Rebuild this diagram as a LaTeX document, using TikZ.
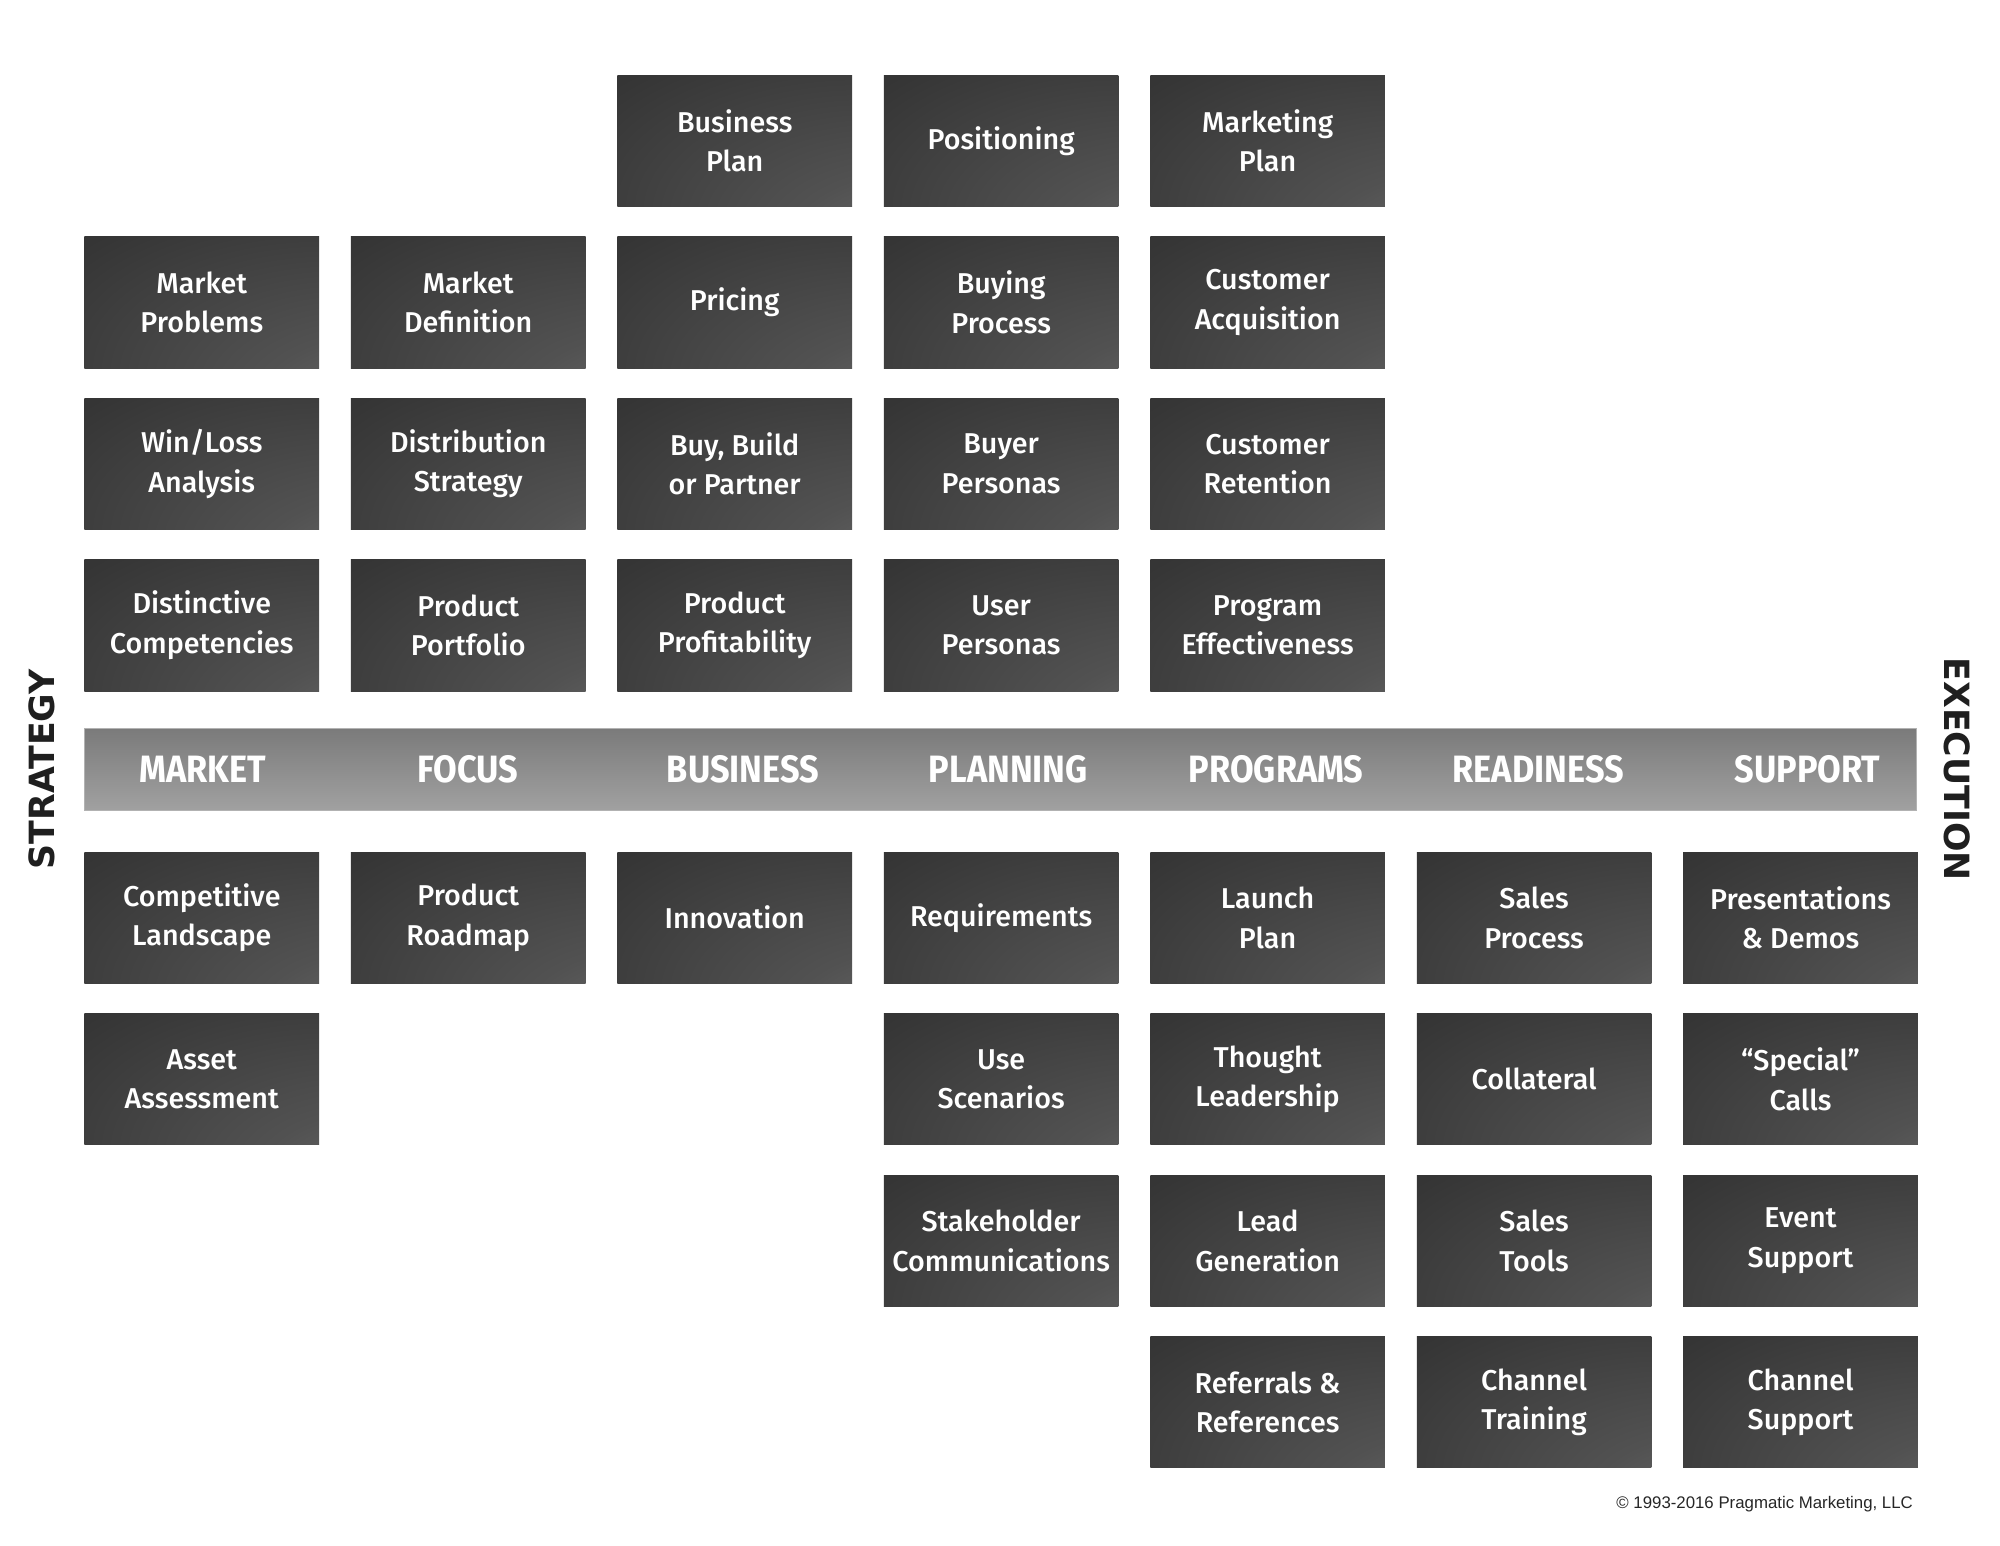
\documentclass[tikz,border=0pt]{standalone}
\usepackage{fontspec}
\setmainfont{Fira Sans}[UprightFont=* Medium, BoldFont=* Bold]
\newfontfamily\bandfont{Fira Sans}[FakeStretch=0.9]
\newfontfamily\sidefont{DejaVu Sans}
\newfontfamily\notefont{Liberation Sans}
\usetikzlibrary{positioning}

% dunkle Kachel, heller zur rechten unteren Ecke
\pgfdeclareradialshading{tileshade}{\pgfpoint{50bp}{-50bp}}{color(0bp)=(black!54); color(25bp)=(black!68); color(60bp)=(black!79); color(100bp)=(black!84)}

\tikzset{
  tile/.style={shade, shading=tileshade, minimum width=3.68cm, minimum height=2.06cm,
    inner sep=0pt, text=white, align=center, font=\fontsize{12.8pt}{17.6pt}\selectfont},
  band/.style={top color=black!52, bottom color=black!37, draw=black!30, line width=0.4pt,
    minimum width=28.74cm, minimum height=1.28cm, inner sep=0pt},
  bandlabel/.style={text=white, font=\bandfont\fontsize{17pt}{19pt}\selectfont\bfseries},
  sidelabel/.style={text=black!88, font=\sidefont\fontsize{15.5pt}{18pt}\selectfont\bfseries}
}

\begin{document}
\begin{tikzpicture}[x=0.02cm, y=-0.02cm]
            \useasboundingbox (0,0) rectangle (1568,1211.3);

            % Kacheln oberhalb des Bandes (Spalte/Zeile/Text)
            \foreach \c/\r/\t in {2/0/{Business\\Plan}, 3/0/Positioning, 4/0/{Marketing\\Plan},
                0/1/{Market\\Problems}, 1/1/{Market\\Definition}, 2/1/Pricing, 3/1/{Buying\\Process}, 4/1/{Customer\\Acquisition},
                0/2/{Win/Loss\\Analysis}, 1/2/{Distribution\\Strategy}, 2/2/{Buy, Build\\or Partner}, 3/2/{Buyer\\Personas}, 4/2/{Customer\\Retention},
                0/3/{Distinctive\\Competencies}, 1/3/{Product\\Portfolio}, 2/3/{Product\\Profitability}, 3/3/{User\\Personas}, 4/3/{Program\\Effectiveness}} {
                \node[tile] (up\c\r) at (158.2+208.9*\c, 110.5+126.6*\r) {\t};
            }

            % Kacheln unterhalb des Bandes
            \foreach \c/\r/\t in {0/0/{Competitive\\Landscape}, 1/0/{Product\\Roadmap}, 2/0/Innovation, 3/0/Requirements,
                4/0/{Launch\\Plan}, 5/0/{Sales\\Process}, 6/0/{Presentations\\\& Demos},
                0/1/{Asset\\Assessment}, 3/1/{Use\\Scenarios}, 4/1/{Thought\\Leadership}, 5/1/Collateral, 6/1/{“Special”\\Calls},
                3/2/{Stakeholder\\Communications}, 4/2/{Lead\\Generation}, 5/2/{Sales\\Tools}, 6/2/{Event\\Support},
                4/3/{Referrals \&\\References}, 5/3/{Channel\\Training}, 6/3/{Channel\\Support}} {
                \node[tile] (lo\c\r) at (158.2+208.9*\c, 719.5+126.6*\r) {\t};
            }

            % graues Band mit den Phasen
            \node[band] (band) at (784.5,603) {};
            \node[bandlabel] (market) at (159,603) {MARKET};
            \node[bandlabel] (focus) at (367,603) {FOCUS};
            \node[bandlabel] (business) at (582.5,603) {BUSINESS};
            \node[bandlabel] (planning) at (790.5,603) {PLANNING};
            \node[bandlabel] (programs) at (1000.5,603) {PROGRAMS};
            \node[bandlabel] (readiness) at (1206,603) {READINESS};
            \node[bandlabel] (support) at (1417,603) {SUPPORT};

            % seitliche Beschriftungen
            \node[sidelabel, rotate=90] (strategy) at (33,603) {STRATEGY};
            \node[sidelabel, rotate=-90] (execution) at (1534,603) {EXECUTION};

            \node[anchor=east, inner sep=0pt, text=black!85, font=\notefont\fontsize{7.5pt}{9pt}\selectfont] (copy) at (1500,1179) {© 1993-2016 Pragmatic Marketing, LLC};
        \end{tikzpicture}
\end{document}
